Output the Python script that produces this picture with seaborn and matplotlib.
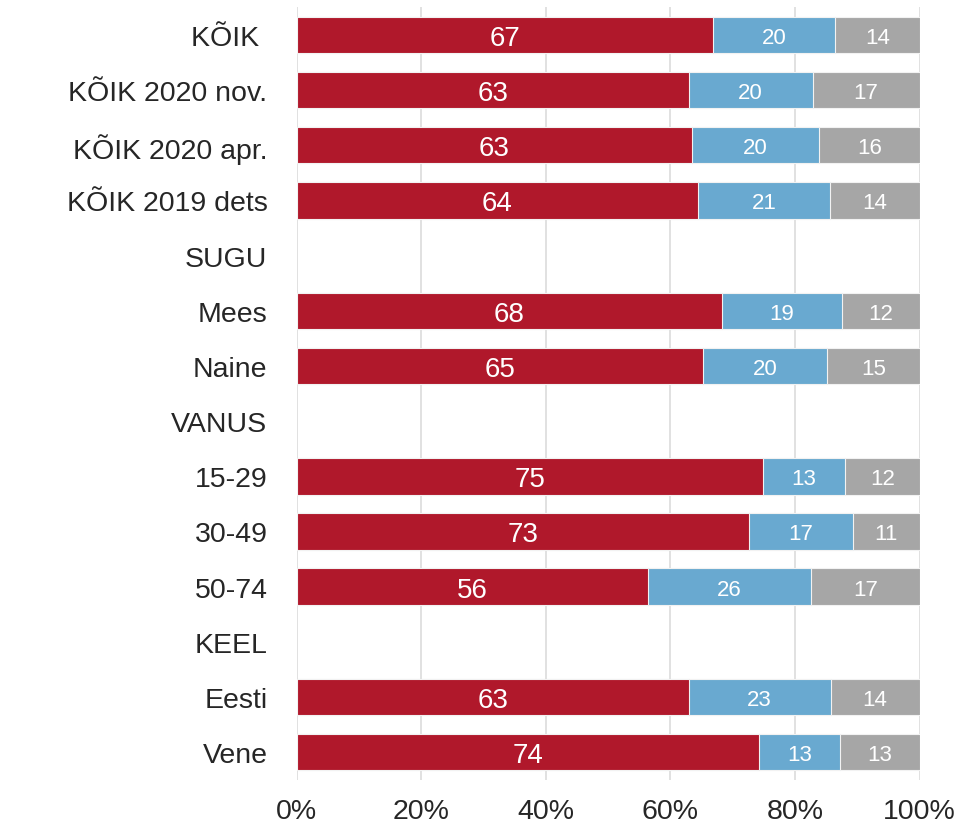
import numpy as np
import pandas as pd
import matplotlib
matplotlib.use("Agg")
import matplotlib.pyplot as plt
import seaborn as sns

categories = ["KÕIK ", "KÕIK 2020 nov.", "KÕIK 2020 apr.", "KÕIK 2019 dets", "SUGU",
              "Mees", "Naine", "VANUS", "15-29", "30-49", "50-74", "KEEL", "Eesti", "Vene"]
red_vals = [66.8, 62.9, 63.4, 64.4, np.nan, 68.2, 65.3, np.nan, 74.8, 72.6, 56.4, np.nan, 62.9, 74.2]
blue_vals = [19.6, 19.9, 20.4, 21.2, np.nan, 19.4, 19.8, np.nan, 13.2, 16.7, 26.2, np.nan, 22.8, 13.0]
gray_vals = [13.6, 17.2, 16.2, 14.4, np.nan, 12.4, 14.9, np.nan, 12.0, 10.7, 17.4, np.nan, 14.3, 12.8]
x_ticks = [0, 20, 40, 60, 80, 100]
x_ticklabels = ["0%", "20%", "40%", "60%", "80%", "100%"]

RED = "#B0182B"
BLUE = "#69A9D0"
GRAY = "#A6A6A6"
TXT = "#262626"

sns.set_theme(style="white")
plt.rcParams["font.family"] = ["Liberation Sans", "DejaVu Sans"]

df = pd.DataFrame({"cat": categories, "red": red_vals, "blue": blue_vals, "gray": gray_vals})
df["c_blue"] = df["red"] + df["blue"]
df["c_gray"] = df["c_blue"] + df["gray"]

fig = plt.figure(figsize=(9.6, 8.28), dpi=100)
ax = fig.add_axes([0.309, 0.057, 0.649, 0.933])

for col, color in [("c_gray", GRAY), ("c_blue", BLUE), ("red", RED)]:
    sns.barplot(data=df, x=col, y="cat", order=categories, color=color, orient="h",
                width=0.66, saturation=1, linewidth=0.8, edgecolor="#f2f2f2", ax=ax, zorder=3)

for i in range(len(categories)):
    r, b, g = red_vals[i], blue_vals[i], gray_vals[i]
    if np.isnan(r):
        continue
    ax.text(r / 2, i, f"{r:.0f}", ha="center", va="center_baseline", color="white", fontsize=20, zorder=5)
    ax.text(r + b / 2, i, f"{b:.0f}", ha="center", va="center_baseline", color="white", fontsize=16, zorder=5)
    ax.text(r + b + g / 2, i, f"{g:.0f}", ha="center", va="center_baseline", color="white", fontsize=16, zorder=5)

ax.set_xlim(0, 100)
ax.set_ylim(len(categories) - 0.5, -0.5)
ax.set_xticks(x_ticks)
ax.set_xticklabels(x_ticklabels, fontsize=20.5, color=TXT)
ax.set_yticks(range(len(categories)))
ax.set_yticklabels(categories, fontsize=20.5, color=TXT)
ax.tick_params(axis="x", length=0, pad=13)
ax.tick_params(axis="y", length=0, pad=21)
ax.set_xlabel("")
ax.set_ylabel("")
ax.xaxis.grid(True, color="#DCDCDC", linewidth=1.2, zorder=0)
ax.yaxis.grid(False)
ax.set_axisbelow(True)
for s in ax.spines.values():
    s.set_visible(False)

fig.savefig("out.png", dpi=100)
